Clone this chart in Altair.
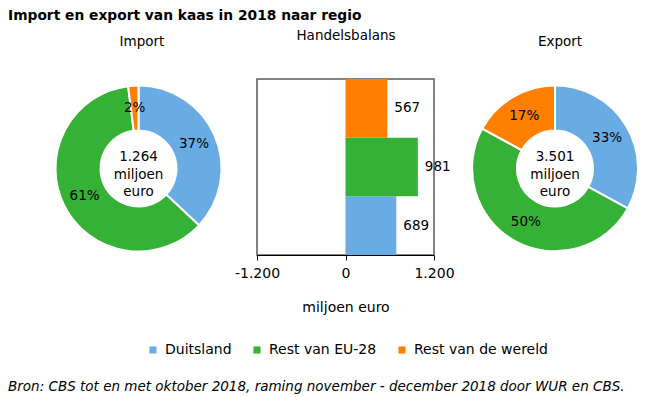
import altair as alt
import pandas as pd

# ---- data ----
regios = ["Duitsland", "Rest van EU-28", "Rest van de wereld"]
kleuren = ["#69ACE4", "#35B236", "#FF7F00"]
import_pct = [37, 61, 2]
export_pct = [33, 50, 17]
balans = [689, 981, 567]
import_totaal = "1.264"
export_totaal = "3.501"
x_ticks = [-1200, 0, 1200]

titel = "Import en export van kaas in 2018 naar regio"
bron = "Bron: CBS tot en met oktober 2018, raming november - december 2018 door WUR en CBS."

FONT = "DejaVu Sans"
W, H = 629, 389

# layout (pixels inside the chart)
IMP_C = (130.5, 160.5)
EXP_C = (547, 160.5)
R_OUT, R_IN = 83, 38
BAR_X = [249, 426]
BAR_Y = [71, 247]

color = alt.Color(
    "regio:N",
    scale=alt.Scale(domain=regios, range=kleuren),
    legend=alt.Legend(
        orient="none", legendX=138, legendY=335, direction="horizontal",
        title=None, symbolType="square", symbolSize=50, symbolStrokeWidth=0,
        labelFontSize=14, labelFont=FONT, labelColor="black", columnPadding=18,
        labelOffset=5,
    ),
)

def donut(pcts, center, totaal):
    df = pd.DataFrame({"regio": regios, "pct": pcts, "volg": [0, 1, 2],
                       "label": [f"{p}%" for p in pcts]})
    base = alt.Chart(df).encode(
        theta=alt.Theta("pct:Q", stack=True),
        order=alt.Order("volg:Q"),
        x=alt.value(center[0]), y=alt.value(center[1]),
    )
    arc = base.mark_arc(outerRadius=R_OUT, innerRadius=R_IN, stroke="white",
                        strokeWidth=2).encode(color=color)
    txt = base.mark_text(radius=(R_OUT + R_IN) / 2, fontSize=13.5, font=FONT,
                         color="black").encode(text="label:N")
    mid = alt.Chart(pd.DataFrame({"t": [f"{totaal}\nmiljoen\neuro"]})).mark_text(
        fontSize=13.5, font=FONT, color="black", lineBreak="\n", lineHeight=17.5,
        baseline="middle",
    ).encode(text="t:N", x=alt.value(center[0]), y=alt.value(center[1] - 11.5))
    return [arc, txt, mid]

bal_df = pd.DataFrame({"regio": regios, "waarde": balans})
y_order = ["Rest van de wereld", "Rest van EU-28", "Duitsland"]

xscale = alt.Scale(domain=[-1200, 1200], range=BAR_X, nice=False, zero=False)
yscale = alt.Scale(domain=y_order, range=BAR_Y, paddingInner=0, paddingOuter=0)

bars = alt.Chart(bal_df).mark_bar().encode(
    x=alt.X("waarde:Q", scale=xscale,
            axis=alt.Axis(values=x_ticks, offset=BAR_Y[1] - H, grid=False,
                          title="miljoen euro", titleFont=FONT, titleFontSize=14,
                          titleFontWeight="normal", titleColor="black", titlePadding=20,
                          labelFont=FONT, labelFontSize=14, labelColor="black",
                          labelPadding=6, labelFlush=False, domainColor="black",
                          tickColor="black", tickSize=5, zindex=1,
                          labelExpr="(datum.value < 0 ? '-' : '') + replace(format(abs(datum.value), ','), ',', '.')")),
    x2=alt.datum(0),
    y=alt.Y("regio:N", scale=yscale, axis=None),
    color=color,
)
bar_txt = alt.Chart(bal_df).mark_text(align="left", dx=7, fontSize=13.5, font=FONT,
                                      color="black").encode(
    x=alt.X("waarde:Q", scale=xscale),
    y=alt.Y("regio:N", scale=yscale, axis=None),
    text=alt.Text("waarde:Q"),
)
frame = alt.Chart(pd.DataFrame({"a": [0]})).mark_rect(
    fillOpacity=0, stroke="#5a5a5a", strokeWidth=1.5).encode(
    x=alt.X(datum=-1200, scale=xscale), x2=alt.X2(datum=1200),
    y=alt.value(BAR_Y[0]), y2=alt.value(BAR_Y[1]),
)

def label(text, x, y, size=14, weight="normal", align="center", style="normal"):
    return alt.Chart(pd.DataFrame({"t": [text]})).mark_text(
        fontSize=size, font=FONT, fontWeight=weight, align=align, fontStyle=style,
        baseline="alphabetic", color="black",
    ).encode(text="t:N", x=alt.value(x), y=alt.value(y))

layers = [frame, bars, bar_txt]
layers += donut(import_pct, IMP_C, import_totaal)
layers += donut(export_pct, EXP_C, export_totaal)
layers += [
    label(titel, 0, 12, size=13.8, weight="bold", align="left"),
    label("Import", 134, 38, size=13.5),
    label("Handelsbalans", 338, 32, size=13.5),
    label("Export", 552, 38, size=13.5),
    label(bron, 0, 383, size=13.5, align="left", style="italic"),
]

chart = alt.layer(*layers).properties(
    width=W, height=H, padding=0, autosize=alt.AutoSizeParams(type="none"),
).configure(font=FONT).configure_view(strokeWidth=0)

chart.save("out.html", embed_options={"renderer": "svg", "actions": False})
